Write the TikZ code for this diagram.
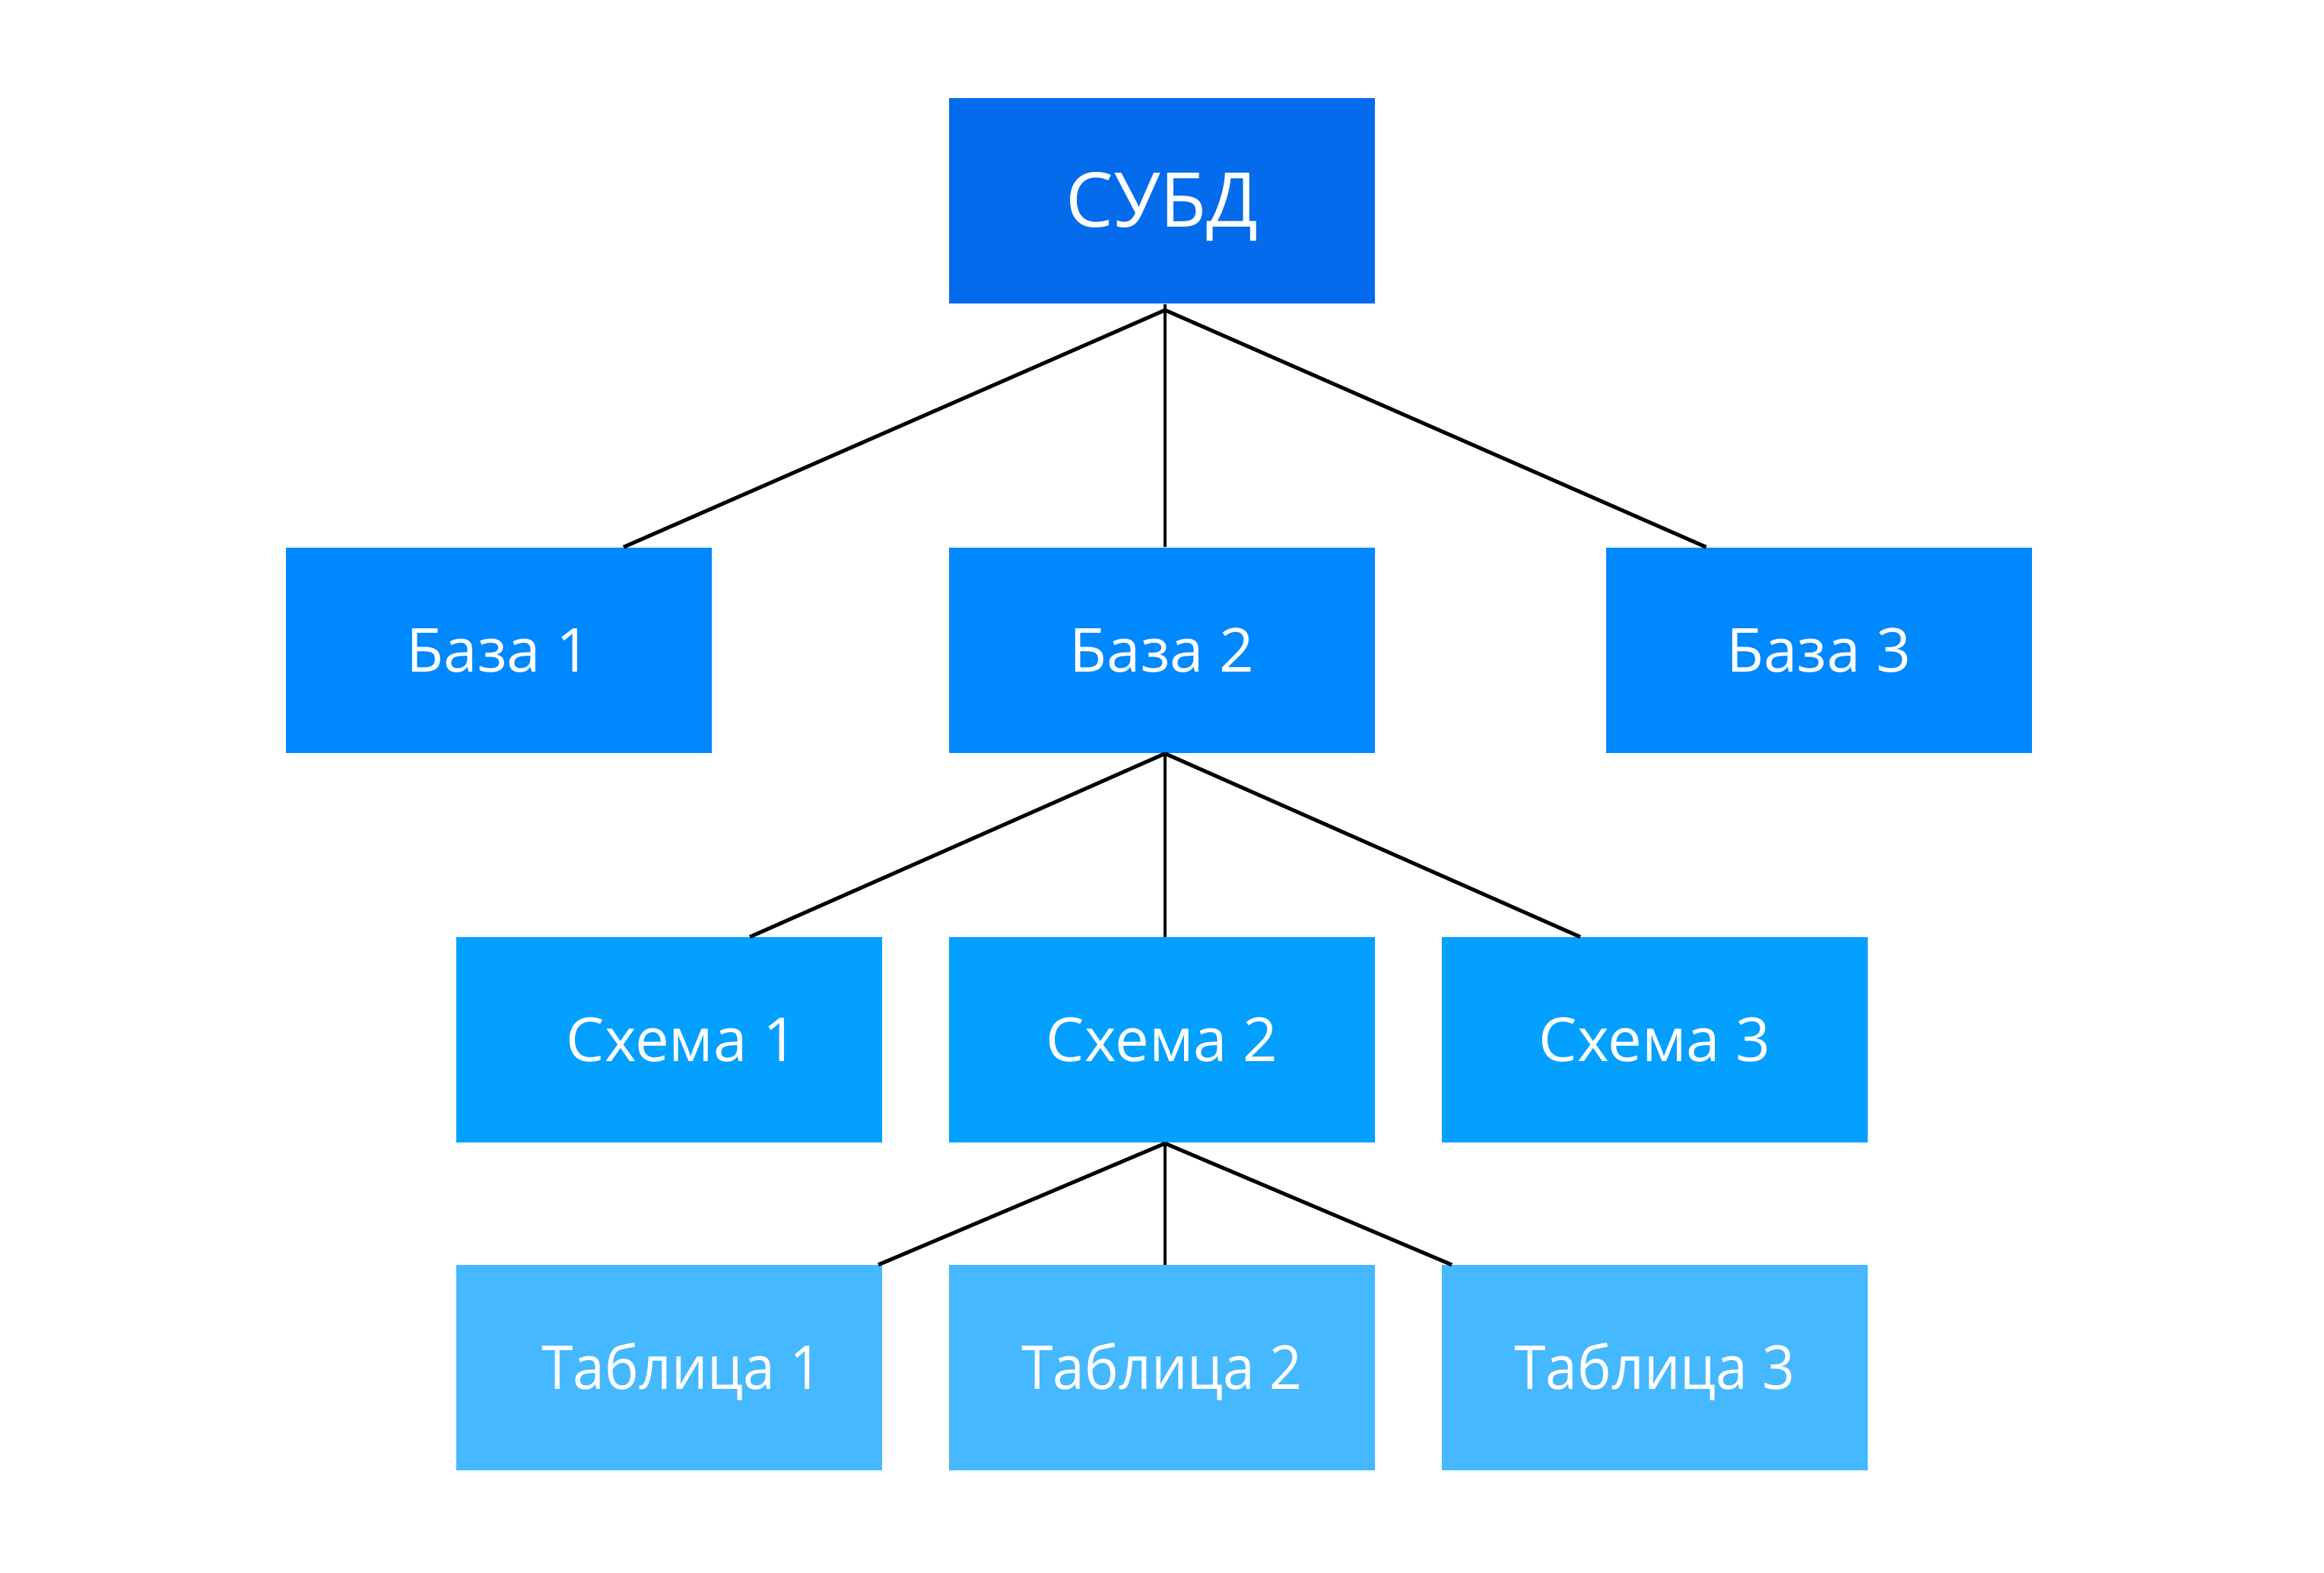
\documentclass[tikz,border=0pt]{standalone}
\usepackage{fontspec}
\setmainfont{Open Sans}
\newfontfamily\tabfont[FakeStretch=0.94]{Open Sans}
\usetikzlibrary{calc}
\definecolor{cTop}{RGB}{3,107,236}
\definecolor{cBase}{RGB}{0,136,255}
\definecolor{cSchema}{RGB}{3,160,255}
\definecolor{cTable}{RGB}{69,184,255}
\tikzset{
  box/.style={rectangle, minimum width=5.6cm, minimum height=2.7cm, inner sep=0pt,
    text=white, font=\fontsize{22.7pt}{26pt}\selectfont, text height=0.57cm, text depth=0pt},
  topbox/.style={box, fill=cTop, font=\fontsize{28.3pt}{32pt}\selectfont, text height=0.7cm},
  basebox/.style={box, fill=cBase},
  schemabox/.style={box, fill=cSchema},
  tablebox/.style={box, fill=cTable, font=\tabfont\fontsize{22.7pt}{26pt}\selectfont},
  link/.style={draw=black, line width=1.4pt}
}
\begin{document}
\begin{tikzpicture}
\useasboundingbox (0,0) rectangle (30.56,20.68);
% nodes
\node[topbox] (subd) at (15.28,18.04) {СУБД};
\node[basebox] (b1) at (6.56,12.13) {База 1};
\node[basebox] (b2) at (15.28,12.13) {База 2};
\node[basebox] (b3) at (23.915,12.13) {База 3};
\node[schemabox] (s1) at (8.80,7.005) {\hspace{0.34cm}Схема 1};
\node[schemabox] (s2) at (15.28,7.005) {Схема 2};
\node[schemabox] (s3) at (21.76,7.005) {Схема 3};
\node[tablebox] (t1) at (8.80,2.695) {\hspace{0.34cm}Таблица 1};
\node[tablebox] (t2) at (15.28,2.695) {Таблица 2};
\node[tablebox] (t3) at (21.76,2.695) {Таблица 3};
% junctions
\coordinate (j1) at ($(subd.south)+(0.04,-0.08)$);
\coordinate (j2) at ($(b2.south)+(0.04,0)$);
\coordinate (j3) at ($(s2.south)+(0.04,0)$);
% connectors
\draw[link] ($(subd.south)+(0.04,0)$) -- ($(b2.north)+(0.04,0)$);
\draw[link] (j1) -- ($(b1.north)+(1.64,0)$);
\draw[link] (j1) -- ($(b3.north)+(-1.48,0)$);
\draw[link] (j2) -- ($(s2.north)+(0.04,0)$);
\draw[link] (j2) -- ($(s1.north)+(1.06,0)$);
\draw[link] (j2) -- ($(s3.north)+(-0.98,0)$);
\draw[link] (j3) -- ($(t2.north)+(0.04,0)$);
\draw[link] (j3) -- ($(t1.north)+(2.75,0)$);
\draw[link] (j3) -- ($(t3.north)+(-2.67,0)$);
\end{tikzpicture}
\end{document}
